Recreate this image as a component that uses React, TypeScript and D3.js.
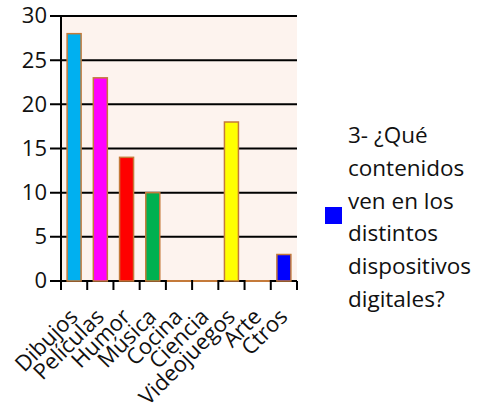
import { useEffect, useRef } from "react";
import * as d3 from "d3";

const categories = ["Dibujos", "Películas", "Humor", "Música", "Cocina", "Ciencia", "Videojuegos", "Arte", "Ctros"];
const values = [28, 23, 14, 10, 0, 0, 18, 0, 3];
const barColors = ["#00B0F0", "#FF00FF", "#FF0000", "#00B050", "#C47A3A", "#C47A3A", "#FFFF00", "#C47A3A", "#0000FF"];
const yTicks = [0, 5, 10, 15, 20, 25, 30];
const legendLines = ["3- ¿Qué", "contenidos", "ven en los", "distintos", "dispositivos", "digitales?"];

const App = () => {
  const svgRef = useRef<SVGSVGElement | null>(null);

  useEffect(() => {
    if (!svgRef.current) return;
    const svg = d3.select(svgRef.current);
    svg.selectAll("*").remove();

    const left = 61;
    const right = 297;
    const top = 16;
    const bottom = 281;
    const font = "'Open Sans', sans-serif";

    const x = d3.scaleBand().domain(categories).range([left, right]).paddingInner(0).paddingOuter(0);
    const y = d3.scaleLinear().domain([0, 30]).range([bottom, top]);

    // plot background
    svg
      .append("rect")
      .attr("x", left)
      .attr("y", top)
      .attr("width", right - left)
      .attr("height", bottom - top)
      .attr("fill", "#FDF3EE");

    // gridlines
    svg
      .selectAll(".grid")
      .data(yTicks)
      .enter()
      .append("line")
      .attr("x1", 50)
      .attr("x2", right)
      .attr("y1", (d) => y(d))
      .attr("y2", (d) => y(d))
      .attr("stroke", "#000")
      .attr("stroke-width", 2);

    // y labels
    svg
      .selectAll(".ylab")
      .data(yTicks)
      .enter()
      .append("text")
      .attr("x", 47)
      .attr("y", (d) => y(d))
      .attr("dy", "0.34em")
      .attr("text-anchor", "end")
      .attr("font-family", font)
      .attr("font-size", 22)
      .attr("fill", "#111")
      .text((d) => d);

    // y axis
    svg
      .append("line")
      .attr("x1", left)
      .attr("x2", left)
      .attr("y1", top)
      .attr("y2", bottom + 9)
      .attr("stroke", "#000")
      .attr("stroke-width", 2);

    // x ticks at band edges
    const edges = categories.map((c) => x(c)!).concat([right]).slice(1);
    svg
      .selectAll(".xtick")
      .data(edges)
      .enter()
      .append("line")
      .attr("x1", (d) => d)
      .attr("x2", (d) => d)
      .attr("y1", bottom)
      .attr("y2", bottom + 9)
      .attr("stroke", "#000")
      .attr("stroke-width", 2);

    // bars
    const barW = 14;
    svg
      .selectAll(".bar")
      .data(values)
      .enter()
      .append("rect")
      .attr("x", (d, i) => x(categories[i])! + x.bandwidth() / 2 - barW / 2)
      .attr("y", (d) => y(d))
      .attr("width", barW)
      .attr("height", (d) => bottom - y(d))
      .attr("fill", (d, i) => barColors[i])
      .attr("stroke", "#C47A3A")
      .attr("stroke-width", 1.5);

    // zero-value bars show as a brown segment on the axis
    svg
      .selectAll(".zero")
      .data(categories.filter((c, i) => values[i] === 0))
      .enter()
      .append("line")
      .attr("x1", (d) => x(d)! + 1)
      .attr("x2", (d) => x(d)! + x.bandwidth() - 1)
      .attr("y1", bottom)
      .attr("y2", bottom)
      .attr("stroke", "#C47A3A")
      .attr("stroke-width", 2);

    // x labels
    svg
      .selectAll(".xlab")
      .data(categories)
      .enter()
      .append("text")
      .attr("transform", (d) => `translate(${x(d)! + x.bandwidth() / 2 + 5},318) rotate(-45)`)
      .attr("text-anchor", "end")
      .attr("font-family", font)
      .attr("font-size", 22)
      .attr("fill", "#111")
      .text((d) => d);

    // legend
    svg
      .append("rect")
      .attr("x", 325)
      .attr("y", 207)
      .attr("width", 17)
      .attr("height", 17)
      .attr("fill", "#0000FF");

    svg
      .selectAll(".leg")
      .data(legendLines)
      .enter()
      .append("text")
      .attr("x", 348)
      .attr("y", (d, i) => 143 + i * 32.8)
      .attr("font-family", font)
      .attr("font-size", 22.5)
      .attr("fill", "#111")
      .text((d) => d);
  }, []);

  return (
    <svg
      ref={svgRef}
      width={485}
      height={413}
      style={{ position: "absolute", left: 0, top: 0, background: "#fff" }}
    ></svg>
  );
};

export default App;
